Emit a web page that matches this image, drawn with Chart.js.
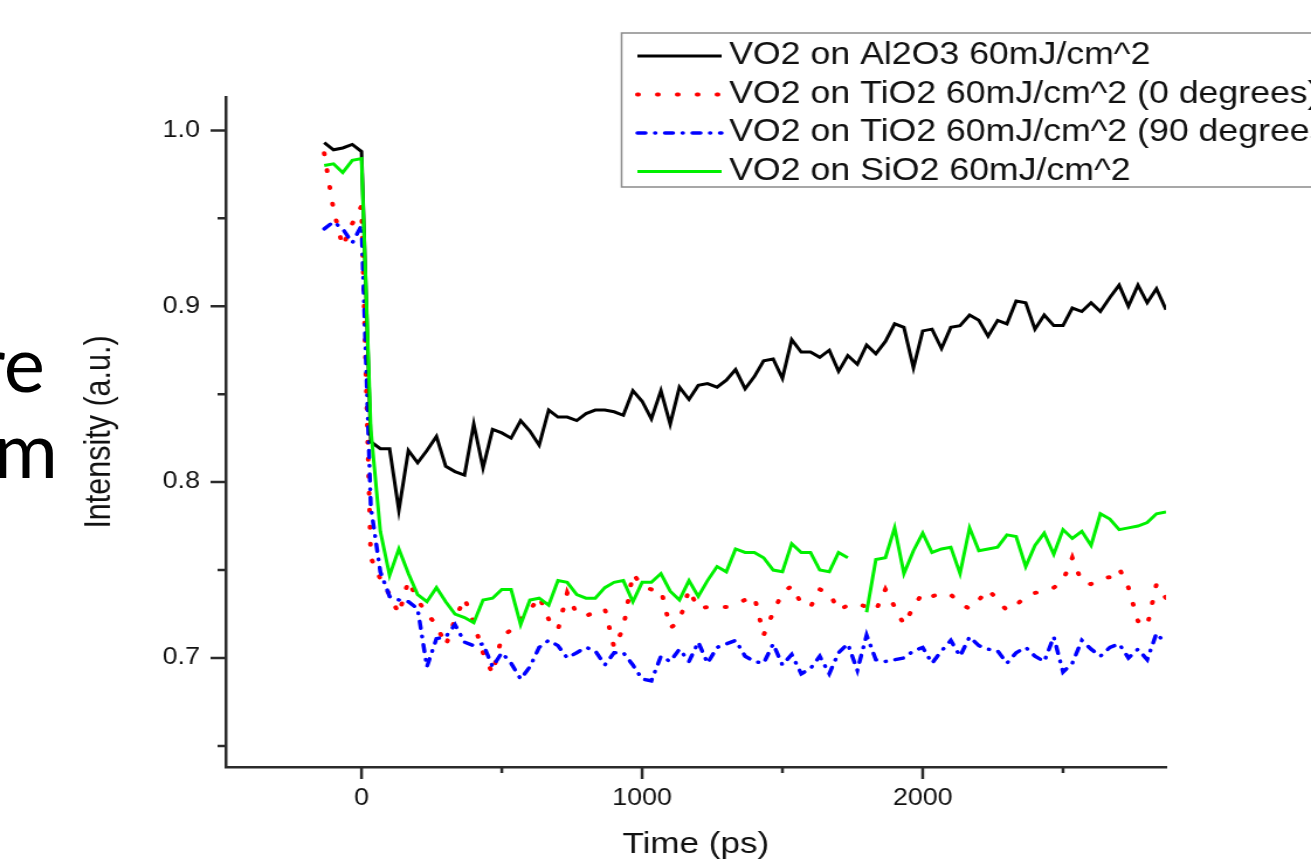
<!DOCTYPE html>
<html>
<head>
<meta charset="utf-8">
<script src="https://cdn.jsdelivr.net/npm/chart.js@4.4.1/dist/chart.umd.min.js"></script>
<style>
  html, body { margin: 0; padding: 0; background: #fff; }
  body { width: 1311px; height: 864px; position: relative; overflow: hidden; }
  /* the original figure is stretched sideways on the slide */
  #wrap { position: absolute; left: 0; top: 0; width: 1121px; height: 864px; transform: scaleX(1.1695); transform-origin: 0 0; }
  .slide { position: absolute; font-family: Lato, "Open Sans", sans-serif; font-size: 78px; line-height: 78px; white-space: nowrap; color: #000; }
</style>
</head>
<body>
<div class="slide" style="top:323px; right:1266px;">re</div>
<div class="slide" style="top:409px; right:1253px;">m</div>
<div id="wrap"><canvas id="chart" width="1121" height="864"></canvas></div>
<script>
// delay times (ps)
const times = [-133, -100, -67, -33, 0,
  33, 67, 100, 133, 167, 200, 233, 267, 300, 333,
  367, 400, 433, 467, 500, 533, 567, 600, 633, 667,
  700, 733, 767, 800, 833, 867, 900, 933, 967, 1000,
  1033, 1067, 1100, 1133, 1167, 1200, 1233, 1267, 1300, 1333,
  1367, 1400, 1433, 1467, 1500, 1533, 1567, 1600, 1633, 1667,
  1700, 1733, 1767, 1800, 1833, 1867, 1900, 1933, 1967, 2000,
  2033, 2067, 2100, 2133, 2167, 2200, 2233, 2267, 2300, 2333,
  2367, 2400, 2433, 2467, 2500, 2533, 2567, 2600, 2633, 2667,
  2700, 2733, 2767, 2800, 2833, 2867];

const al2o3 = [0.993, 0.989, 0.990, 0.992, 0.988,
  0.823, 0.819, 0.819, 0.784, 0.818, 0.811, 0.818, 0.826, 0.809, 0.806,
  0.804, 0.833, 0.808, 0.830, 0.828, 0.825, 0.835, 0.829, 0.821, 0.841,
  0.837, 0.837, 0.835, 0.839, 0.841, 0.841, 0.840, 0.838, 0.852, 0.846,
  0.836, 0.852, 0.833, 0.854, 0.847, 0.855, 0.856, 0.854, 0.858, 0.864,
  0.853, 0.860, 0.869, 0.870, 0.859, 0.881, 0.874, 0.874, 0.871, 0.875,
  0.863, 0.872, 0.867, 0.878, 0.873, 0.880, 0.890, 0.888, 0.865, 0.886,
  0.887, 0.876, 0.888, 0.889, 0.895, 0.892, 0.883, 0.892, 0.890, 0.903,
  0.902, 0.887, 0.895, 0.889, 0.889, 0.899, 0.897, 0.902, 0.897, 0.905,
  0.912, 0.900, 0.912, 0.902, 0.910, 0.898];

const tio2_0 = [0.987, 0.955, 0.934, 0.947, 0.957,
  0.757, 0.745, 0.736, 0.725, 0.744, 0.733, 0.725, 0.719, 0.707, 0.722,
  0.734, 0.720, 0.703, 0.691, 0.712, 0.716, 0.722, 0.727, 0.735, 0.722,
  0.716, 0.737, 0.725, 0.724, 0.726, 0.728, 0.706, 0.717, 0.748, 0.741,
  0.739, 0.739, 0.717, 0.721, 0.739, 0.728, 0.729, 0.729, 0.729, 0.731,
  0.733, 0.735, 0.713, 0.726, 0.737, 0.741, 0.731, 0.729, 0.739, 0.737,
  0.727, 0.730, 0.731, 0.729, 0.727, 0.739, 0.729, 0.719, 0.729, 0.737,
  0.735, 0.737, 0.736, 0.731, 0.728, 0.733, 0.739, 0.733, 0.727, 0.730,
  0.735, 0.737, 0.738, 0.740, 0.744, 0.757, 0.743, 0.742, 0.745, 0.746,
  0.751, 0.740, 0.721, 0.718, 0.742, 0.734];

const tio2_90 = [0.944, 0.948, 0.944, 0.936, 0.946,
  0.786, 0.749, 0.735, 0.733, 0.732, 0.728, 0.695, 0.711, 0.712, 0.719,
  0.709, 0.707, 0.708, 0.695, 0.703, 0.697, 0.688, 0.695, 0.706, 0.710,
  0.707, 0.700, 0.703, 0.706, 0.704, 0.696, 0.703, 0.703, 0.696, 0.688,
  0.687, 0.701, 0.698, 0.705, 0.698, 0.709, 0.697, 0.706, 0.708, 0.710,
  0.701, 0.698, 0.697, 0.708, 0.696, 0.702, 0.691, 0.694, 0.701, 0.691,
  0.703, 0.708, 0.693, 0.713, 0.699, 0.698, 0.699, 0.700, 0.704, 0.706,
  0.697, 0.704, 0.710, 0.701, 0.712, 0.707, 0.705, 0.704, 0.697, 0.703,
  0.706, 0.701, 0.698, 0.712, 0.692, 0.697, 0.710, 0.705, 0.701, 0.706,
  0.708, 0.700, 0.705, 0.699, 0.714, 0.708];

// one missing point near 1767 ps
const sio2 = [0.980, 0.981, 0.976, 0.983, 0.984,
  0.830, 0.772, 0.747, 0.762, 0.748, 0.736, 0.732, 0.740, 0.732, 0.725,
  0.723, 0.720, 0.733, 0.734, 0.739, 0.739, 0.719, 0.733, 0.734, 0.730,
  0.744, 0.743, 0.736, 0.734, 0.734, 0.740, 0.743, 0.744, 0.732, 0.743,
  0.743, 0.748, 0.738, 0.733, 0.744, 0.735, 0.744, 0.752, 0.749, 0.762,
  0.760, 0.760, 0.757, 0.750, 0.749, 0.765, 0.760, 0.760, 0.750, 0.749,
  0.760, 0.757, null, 0.726, 0.756, 0.757, 0.774, 0.748, 0.761, 0.771,
  0.760, 0.762, 0.763, 0.748, 0.774, 0.761, 0.762, 0.763, 0.770, 0.769,
  0.752, 0.764, 0.771, 0.759, 0.773, 0.768, 0.772, 0.764, 0.782, 0.779,
  0.773, 0.774, 0.775, 0.777, 0.782, 0.783];

const seriesLabels = [
  'VO2 on Al2O3 60mJ/cm^2',
  'VO2 on TiO2 60mJ/cm^2 (0 degrees)',
  'VO2 on TiO2 60mJ/cm^2 (90 degrees)',
  'VO2 on SiO2 60mJ/cm^2'
];

const xMajorTicks = [0, 1000, 2000];
const xMinorTicks = [500, 1500, 2500];
const yMajorTicks = [0.7, 0.8, 0.9, 1.0];
const yMinorTicks = [0.65, 0.75, 0.85, 0.95];

const axisColor = '#2b2b2b';
const textColor = '#111';
const fontFamily = '"Liberation Sans", Arial, sans-serif';

Chart.defaults.font.family = fontFamily;
Chart.defaults.color = textColor;

function toPoints(values) {
  return times.map((t, i) => ({ x: t, y: values[i] }));
}

// tick marks: major and minor of different length, outside the axes
const axisTicks = {
  id: 'axisTicks',
  afterDraw(chart) {
    const { ctx, chartArea: area, scales: { x, y } } = chart;
    ctx.save();
    ctx.strokeStyle = axisColor;
    ctx.lineWidth = 2.5;
    ctx.beginPath();
    xMajorTicks.forEach(v => { const p = x.getPixelForValue(v); ctx.moveTo(p, area.bottom); ctx.lineTo(p, area.bottom + 12); });
    xMinorTicks.forEach(v => { const p = x.getPixelForValue(v); ctx.moveTo(p, area.bottom); ctx.lineTo(p, area.bottom + 6); });
    yMajorTicks.forEach(v => { const p = y.getPixelForValue(v); ctx.moveTo(area.left, p); ctx.lineTo(area.left - 13, p); });
    yMinorTicks.forEach(v => { const p = y.getPixelForValue(v); ctx.moveTo(area.left, p); ctx.lineTo(area.left - 7, p); });
    ctx.stroke();
    ctx.restore();
  }
};

// boxed legend sitting over the top right corner
const boxLegend = {
  id: 'boxLegend',
  afterDraw(chart) {
    const ctx = chart.ctx;
    ctx.save();
    ctx.fillStyle = '#fff';
    ctx.strokeStyle = '#8a8a8a';
    ctx.lineWidth = 1.5;
    ctx.fillRect(531.5, 33, 700, 154);
    ctx.strokeRect(531.5, 33, 700, 154);
    ctx.font = '30.5px ' + fontFamily;
    ctx.textBaseline = 'middle';
    chart.data.datasets.forEach((ds, i) => {
      const yy = 56 + i * 38.5;
      ctx.strokeStyle = ds.borderColor;
      ctx.lineWidth = ds.borderWidth;
      ctx.lineCap = ds.borderCapStyle || 'butt';
      ctx.setLineDash(ds.borderDash || []);
      ctx.beginPath();
      ctx.moveTo(545, yy);
      ctx.lineTo(617, yy);
      ctx.stroke();
      ctx.setLineDash([]);
      ctx.fillStyle = textColor;
      ctx.fillText(ds.label, 623.5, yy);
    });
    ctx.restore();
  }
};

new Chart(document.getElementById('chart'), {
  type: 'line',
  data: {
    datasets: [
      {
        label: seriesLabels[0],
        data: toPoints(al2o3),
        borderColor: '#000000',
        borderWidth: 3,
        order: 1
      },
      {
        label: seriesLabels[1],
        data: toPoints(tio2_0),
        borderColor: '#ff0000',
        borderWidth: 4,
        borderDash: [1, 16],
        borderCapStyle: 'round',
        order: 3
      },
      {
        label: seriesLabels[2],
        data: toPoints(tio2_90),
        borderColor: '#0000ff',
        borderWidth: 3.5,
        borderDash: [7, 8, 0.5, 8],
        borderCapStyle: 'round',
        order: 2
      },
      {
        label: seriesLabels[3],
        data: toPoints(sio2),
        borderColor: '#00f000',
        borderWidth: 3,
        spanGaps: false,
        order: 0
      }
    ]
  },
  options: {
    responsive: false,
    animation: false,
    devicePixelRatio: 1,
    layout: { padding: { left: 0, right: 124, top: 97, bottom: 0 } },
    elements: { point: { radius: 0 }, line: { tension: 0, fill: false } },
    scales: {
      x: {
        type: 'linear',
        min: -484,
        max: 2867,
        afterBuildTicks: s => { s.ticks = [...xMajorTicks, ...xMinorTicks].sort((a, b) => a - b).map(v => ({ value: v })); },
        afterFit: s => { s.height = 97; },
        grid: { display: false, drawTicks: true, tickLength: 12 },
        border: { display: true, color: axisColor, width: 2.5 },
        ticks: {
          autoSkip: false, maxRotation: 0, padding: 6,
          font: { size: 23 }, color: textColor,
          callback: v => xMajorTicks.includes(v) ? String(v) : ''
        },
        title: { display: true, text: 'Time (ps)', font: { size: 30 }, color: textColor, padding: { top: 0, bottom: 1 } }
      },
      y: {
        type: 'linear',
        min: 0.638,
        max: 1.019,
        afterBuildTicks: s => { s.ticks = [...yMinorTicks, ...yMajorTicks].sort((a, b) => a - b).map(v => ({ value: v })); },
        afterFit: s => { s.width = 193; },
        grid: { display: false, drawTicks: true, tickLength: 13 },
        border: { display: true, color: axisColor, width: 2.5 },
        ticks: {
          autoSkip: false, padding: 9,
          font: { size: 23 }, color: textColor,
          callback: v => yMajorTicks.includes(v) ? v.toFixed(1) : ''
        },
        title: { display: true, text: 'Intensity (a.u.)', font: { size: 30.5 }, color: textColor, padding: { top: 67, bottom: 0 } }
      }
    },
    plugins: {
      legend: { display: false },
      tooltip: { enabled: false }
    }
  },
  plugins: [axisTicks, boxLegend]
});
</script>
</body>
</html>
